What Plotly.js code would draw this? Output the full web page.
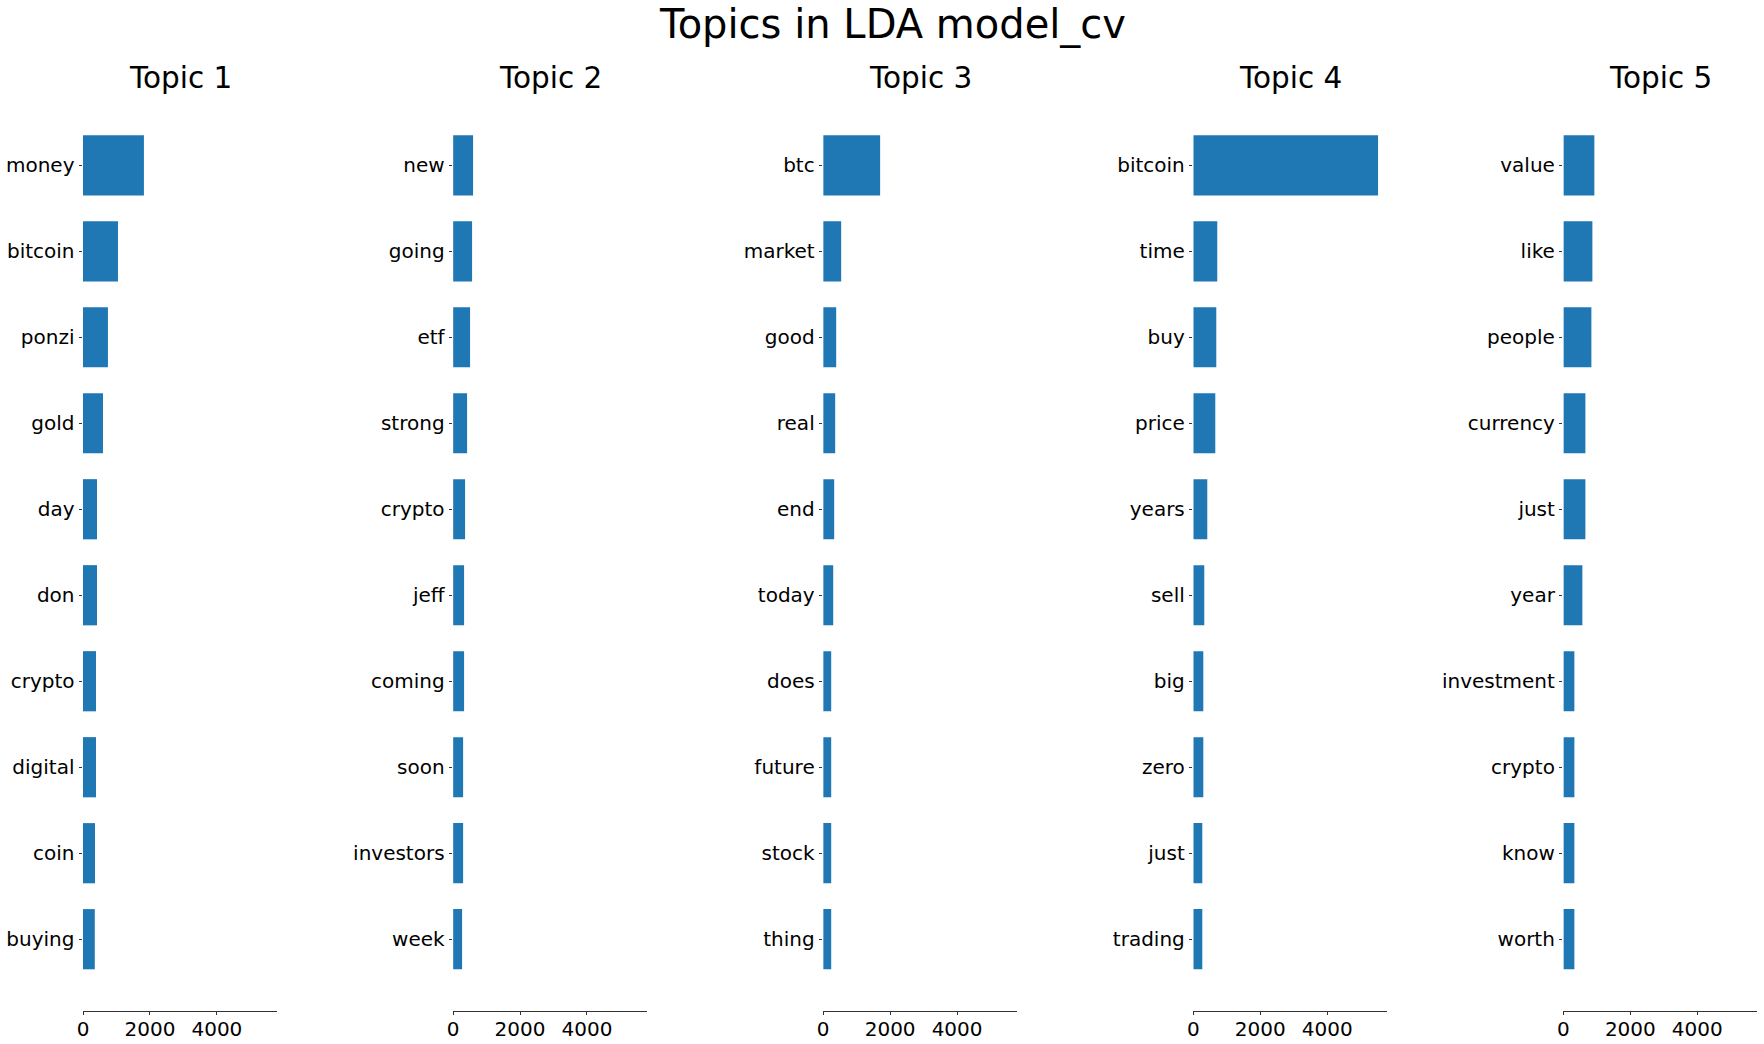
<!DOCTYPE html>
<html>
<head>
<meta charset="utf-8">
<script src="https://cdn.plot.ly/plotly-3.0.1.min.js"></script>
<style>
  html, body { margin: 0; padding: 0; background: #ffffff; }
  #chart { width: 1764px; height: 1044px; }
</style>
</head>
<body>
<div id="chart"></div>
<script>
// ---- data ----
const chartTitle = "Topics in LDA model_cv";
const topicTitles = ["Topic 1", "Topic 2", "Topic 3", "Topic 4", "Topic 5"];

const topic1Words = ["money", "bitcoin", "ponzi", "gold", "day", "don", "crypto", "digital", "coin", "buying"];
const topic1Values = [1820, 1045, 745, 597, 418, 418, 388, 388, 358, 352];

const topic2Words = ["new", "going", "etf", "strong", "crypto", "jeff", "coming", "soon", "investors", "week"];
const topic2Values = [597, 567, 507, 418, 358, 328, 328, 299, 299, 269];

const topic3Words = ["btc", "market", "good", "real", "end", "today", "does", "future", "stock", "thing"];
const topic3Values = [1701, 537, 388, 358, 328, 299, 239, 239, 239, 239];

const topic4Words = ["bitcoin", "time", "buy", "price", "years", "sell", "big", "zero", "just", "trading"];
const topic4Values = [5520, 716, 687, 657, 418, 328, 299, 299, 269, 269];

const topic5Words = ["value", "like", "people", "currency", "just", "year", "investment", "crypto", "know", "worth"];
const topic5Values = [925, 866, 836, 657, 657, 567, 328, 328, 328, 328];

const xTickValues = [0, 2000, 4000];
const xTickLabels = ["0", "2000", "4000"];

// ---- layout constants (pixels in a 1764 x 1044 canvas) ----
const W = 1764, H = 1044;
const axLefts = [83, 453.1, 823.2, 1193.3, 1563.4];
const axWidth = 194;
const axTop = 93.5, axBottom = 1011;
const xMax = 5520 * 1.05;
const barColor = "#1f77b4";
const fontFam = "DejaVu Sans, Liberation Sans, sans-serif";
const tickSize = 20;

const words = [topic1Words, topic2Words, topic3Words, topic4Words, topic5Words];
const values = [topic1Values, topic2Values, topic3Values, topic4Values, topic5Values];

const traces = [];
const layout = {
  width: W, height: H,
  margin: {l: 0, r: 0, t: 0, b: 0, pad: 0},
  paper_bgcolor: "#ffffff",
  plot_bgcolor: "#ffffff",
  showlegend: false,
  bargap: 0.3,
  font: {family: fontFam, color: "#000000", size: tickSize},
  annotations: [],
  hovermode: false
};

layout.annotations.push({
  text: chartTitle, xref: "paper", yref: "paper",
  x: 892 / W, y: 1 - 24.5 / H, xanchor: "center", yanchor: "middle",
  showarrow: false, font: {family: fontFam, size: 40, color: "#000000"}
});

for (let i = 0; i < 5; i++) {
  const n = i === 0 ? "" : String(i + 1);
  traces.push({
    type: "bar", orientation: "h",
    x: values[i], y: words[i],
    xaxis: "x" + n, yaxis: "y" + n,
    marker: {color: barColor, line: {width: 0}},
    hoverinfo: "skip"
  });
  const d0 = axLefts[i] / W, d1 = (axLefts[i] + axWidth) / W;
  layout["xaxis" + n] = {
    domain: [d0, d1], anchor: "y" + n,
    range: [0, xMax], autorange: false, fixedrange: true,
    showgrid: false, zeroline: false,
    showline: true, linecolor: "#000000", linewidth: 0.8,
    ticks: "outside", ticklen: 3.5, tickwidth: 0.8, tickcolor: "#000000",
    ticklabelstandoff: -3,
    tickmode: "array", tickvals: xTickValues, ticktext: xTickLabels,
    tickfont: {family: fontFam, size: tickSize, color: "#000000"}
  };
  layout["yaxis" + n] = {
    domain: [1 - axBottom / H, 1 - axTop / H], anchor: "x" + n,
    type: "category", categoryorder: "array", categoryarray: words[i],
    range: [9.835, -0.835], autorange: false, fixedrange: true,
    showgrid: false, zeroline: false, showline: false,
    ticks: "outside", ticklen: 3.5, tickwidth: 0.8, tickcolor: "#000000",
    tickfont: {family: fontFam, size: tickSize, color: "#000000"}
  };
  layout.annotations.push({
    text: topicTitles[i], xref: "paper", yref: "paper",
    x: (axLefts[i] + axWidth / 2) / W, y: 1 - 78 / H,
    xanchor: "center", yanchor: "middle",
    showarrow: false, font: {family: fontFam, size: 29.5, color: "#000000"}
  });
}

Plotly.newPlot("chart", traces, layout, {staticPlot: true, displayModeBar: false});
</script>
</body>
</html>
